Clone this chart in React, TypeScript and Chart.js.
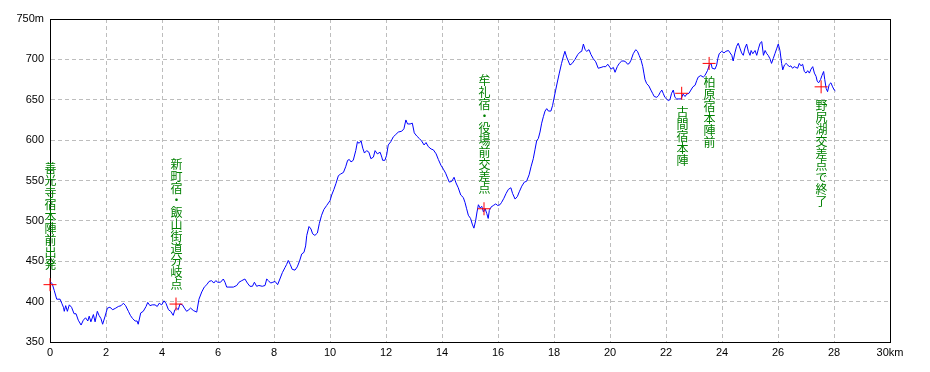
import React, { useEffect, useRef } from "react";
import { Chart, registerables } from "chart.js";

Chart.register(...registerables);

// ---- data ----
const distanceKm = [
  0, 0.08, 0.15, 0.24, 0.36, 0.42, 0.48, 0.51, 0.56, 0.62, 0.69, 0.77, 0.86, 0.93,
  1.01, 1.11, 1.19, 1.27, 1.35, 1.4, 1.46, 1.55, 1.61, 1.69, 1.75, 1.82, 1.88, 1.96,
  2.05, 2.14, 2.24, 2.35, 2.44, 2.54, 2.62, 2.7, 2.8, 2.87, 2.95, 3.04, 3.11, 3.15,
  3.24, 3.33, 3.43, 3.49, 3.57, 3.65, 3.75, 3.83, 3.9, 3.99, 4.07, 4.14, 4.23, 4.31,
  4.4, 4.46, 4.52, 4.58, 4.64, 4.73, 4.8, 4.88, 4.96, 5.02, 5.12, 5.18, 5.24,
  5.32, 5.42, 5.51, 5.6, 5.68, 5.77, 5.85, 5.92, 5.99, 6.09, 6.19, 6.25, 6.31, 6.39,
  6.55, 6.67, 6.75, 6.85, 6.96, 7.05, 7.14, 7.23, 7.3, 7.38, 7.46, 7.58, 7.68, 7.74,
  7.8, 7.88, 7.96, 8.04, 8.13, 8.21, 8.3, 8.39, 8.45, 8.51, 8.58, 8.65, 8.75, 8.83,
  8.91, 8.99, 9.07, 9.13, 9.17, 9.25, 9.32, 9.38, 9.46, 9.55, 9.62, 9.7, 9.78, 9.88,
  10.0, 10.06, 10.14, 10.21, 10.3, 10.38, 10.48, 10.56, 10.63, 10.69, 10.75, 10.83,
  10.92, 10.98, 11.04, 11.11, 11.17, 11.23, 11.31, 11.39, 11.46, 11.55, 11.61, 11.69,
  11.79, 11.85, 11.88, 11.96, 12.02, 12.08, 12.17, 12.26, 12.35, 12.44, 12.56, 12.64,
  12.71, 12.77, 12.86, 12.94, 13.01, 13.1, 13.19, 13.27, 13.36, 13.43, 13.51, 13.61,
  13.69, 13.79, 13.87, 13.96, 14.05, 14.13, 14.2, 14.26, 14.35, 14.43, 14.5, 14.58,
  14.67, 14.76, 14.82, 14.88, 14.94, 15.02, 15.08, 15.14, 15.2, 15.25, 15.3, 15.36,
  15.42, 15.48, 15.54, 15.6, 15.65, 15.69, 15.75, 15.83, 15.92, 15.99, 16.07, 16.13,
  16.21, 16.29, 16.37, 16.46, 16.52, 16.61, 16.69, 16.76, 16.85, 16.94, 17.02, 17.11,
  17.18, 17.26, 17.32, 17.38, 17.44, 17.5, 17.56, 17.62, 17.68, 17.74, 17.8, 17.89,
  17.95, 18.0, 18.06, 18.12, 18.19, 18.27, 18.33, 18.39, 18.45, 18.51, 18.57, 18.65,
  18.75, 18.85, 18.93, 18.99, 19.05, 19.11, 19.17, 19.25, 19.32, 19.4, 19.49, 19.58,
  19.68, 19.76, 19.85, 19.92, 20.04, 20.12, 20.18, 20.26, 20.33, 20.42, 20.5, 20.56,
  20.63, 20.69, 20.75, 20.83, 20.92, 20.98, 21.04, 21.11, 21.17, 21.21, 21.25, 21.31,
  21.39, 21.46, 21.52, 21.58, 21.67, 21.73, 21.79, 21.85, 21.9, 21.96, 22.02, 22.08,
  22.14, 22.2, 22.26, 22.32, 22.38, 22.46, 22.54, 22.61, 22.68, 22.74, 22.82, 22.89,
  22.96, 23.04, 23.1, 23.15, 23.24, 23.33, 23.39, 23.48, 23.55, 23.61, 23.65, 23.75,
  23.81, 23.85, 23.9, 23.99, 24.07, 24.14, 24.23, 24.29, 24.35, 24.4, 24.46, 24.52,
  24.58, 24.64, 24.7, 24.76, 24.82, 24.88, 24.94, 25.0, 25.04, 25.1, 25.18, 25.24,
  25.3, 25.36, 25.42, 25.48, 25.54, 25.6, 25.65, 25.71, 25.77, 25.83, 25.89, 25.95,
  26.01, 26.07, 26.13, 26.17, 26.23, 26.29, 26.35, 26.4, 26.46, 26.52, 26.58, 26.64,
  26.7, 26.76, 26.82, 26.88, 26.94, 27.0, 27.06, 27.12, 27.18, 27.24, 27.3, 27.36,
  27.4, 27.45, 27.52, 27.57, 27.63, 27.67, 27.72, 27.77, 27.83, 27.89, 27.95, 28.01,
  28.05,
];

const elevationM = [
  425, 422, 414, 403, 403, 398, 393, 388, 395, 388, 396, 393, 385, 385,
  377, 371, 377, 380, 376, 382, 375, 384, 375, 388, 383, 379, 372, 381,
  392, 393, 390, 392, 394, 395, 398, 395, 388, 383, 379, 376, 376, 372,
  386, 388, 394, 399, 395, 396, 396, 394, 398, 396, 401, 398, 390, 388,
  383, 390, 392, 390, 397, 396, 392, 388, 390, 392, 389, 388, 387,
  403, 412, 418, 421, 425, 426, 423, 426, 424, 424, 428, 424, 418, 418,
  418, 420, 424, 426, 428, 423, 419, 419, 424, 419, 420, 419, 420, 428,
  426, 423, 424, 425, 421, 428, 436, 442, 446, 451, 446, 440, 439, 443,
  450, 459, 461, 469, 482, 493, 490, 484, 482, 485, 497, 507, 514, 519,
  525, 532, 539, 546, 556, 558, 560, 567, 575, 576, 573, 575,
  587, 598, 596, 599, 590, 584, 587, 585, 577, 579, 587, 583,
  585, 579, 575, 575, 581, 594, 598, 604, 607, 610, 611, 614,
  625, 620, 620, 621, 609, 605, 602, 599, 594, 597, 592, 589,
  588, 583, 576, 569, 564, 559, 553, 548, 549, 554, 547, 541,
  532, 529, 523, 515, 507, 503, 496, 491, 500, 511, 520, 516,
  518, 511, 515, 509, 503, 513, 517, 519, 521, 519, 520, 523,
  528, 534, 539, 541, 534, 527, 530, 536, 543, 548, 549, 557,
  567, 577, 588, 599, 602, 610, 621, 629, 636, 639, 636, 636,
  643, 652, 662, 672, 683, 695, 703, 710, 703, 698, 693, 695,
  700, 706, 709, 710, 719, 712, 710, 712, 706, 701, 697, 689,
  690, 691, 691, 694, 688, 690, 684, 691, 695, 698, 698, 697,
  694, 695, 699, 707, 712, 710, 705, 699, 691, 683, 675, 670,
  667, 662, 658, 654, 653, 655, 659, 662, 658, 653, 651, 649,
  650, 658, 662, 653, 651, 651, 651, 657, 654, 657, 658, 662,
  666, 668, 674, 678, 680, 678, 680, 686, 693, 695, 689, 688,
  693, 701, 707, 710, 708, 710, 711, 708, 705, 698, 708, 716,
  720, 714, 708, 705, 714, 719, 710, 705, 711, 707, 711, 705,
  713, 720, 722, 705, 711, 707, 705, 701, 695, 701, 707, 713,
  719, 711, 695, 687, 693, 695, 693, 691, 692, 689, 691, 690,
  689, 695, 692, 694, 685, 683, 686, 683, 688, 691, 683, 679,
  673, 671, 675, 680, 685, 675, 664, 660, 669, 671, 666, 662,
  661,
];

const markerKm = [0, 4.5, 15.5, 22.56, 23.54, 27.54];
const markerElevationM = [421, 397, 515, 658, 695, 666];
const markerLabels = [
  "善光寺宿本陣前出発",
  "新町宿・飯山街道分岐点",
  "牟礼宿・役場前交差点",
  "古間宿本陣",
  "柏原宿本陣前",
  "野尻湖交差点で終了",
];

const yTickMin = 350;
const yTickMax = 750;
const yTickStep = 50;
const xTickMin = 0;
const xTickMax = 30;
const xTickStep = 2;
const yUnit = "m";
const xUnit = "km";

// ---- presentation ----
const LABEL_BELOW = [false, false, false, true, true, true];
const AXIS_FONT = { family: "'Liberation Sans', Arial, sans-serif", size: 11 };

const labelPlugin = {
  id: "markerLabels",
  beforeDatasetsDraw(chart: any) {
    const { ctx, chartArea } = chart;
    ctx.save();
    ctx.strokeStyle = "#000";
    ctx.lineWidth = 1;
    const l = Math.round(chartArea.left) + 0.5;
    const t = Math.round(chartArea.top) + 0.5;
    const r = Math.round(chartArea.right) + 0.5;
    const b = Math.round(chartArea.bottom) + 0.5;
    ctx.strokeRect(l, t, r - l, b - t);
    ctx.restore();
  },
  afterDatasetsDraw(chart: any) {
    const { ctx } = chart;
    const xs = chart.scales.x;
    const ys = chart.scales.y;
    ctx.save();
    ctx.fillStyle = "#008000";
    ctx.font = "12px 'Noto Sans CJK JP', sans-serif";
    ctx.textAlign = "center";
    ctx.textBaseline = "middle";
    const step = 12;
    markerLabels.forEach((label, i) => {
      const chars = Array.from(label);
      const px = Math.round(xs.getPixelForValue(markerKm[i])) + 0.5;
      const py = ys.getPixelForValue(markerElevationM[i]);
      const n = chars.length;
      chars.forEach((ch, j) => {
        let cy;
        if (LABEL_BELOW[i]) {
          cy = py + 13 + j * step + step / 2;
        } else {
          cy = py - 14 - (n - 1 - j) * step - step / 2;
        }
        ctx.fillText(ch, px, cy);
      });
    });
    ctx.restore();
  },
};

export default function App() {
  const ref = useRef<HTMLCanvasElement>(null);

  useEffect(() => {
    if (!ref.current) return;
    const lineData = distanceKm.map((x, i) => ({ x, y: elevationM[i] }));
    const markerData = markerKm.map((x, i) => ({ x, y: markerElevationM[i] }));
    const chart = new Chart(ref.current, {
      type: "scatter",
      data: {
        datasets: [
          {
            data: markerData,
            showLine: false,
            pointStyle: "cross",
            pointRadius: 6.5,
            pointBorderColor: "#ff0000",
            pointBackgroundColor: "#ff0000",
            pointBorderWidth: 1,
            borderColor: "#ff0000",
            clip: false,
            order: 1,
          } as any,
          {
            data: lineData,
            showLine: true,
            borderColor: "#0000ff",
            borderWidth: 1,
            pointRadius: 0,
            tension: 0,
            order: 2,
          } as any,
        ],
      },
      options: {
        animation: false,
        responsive: false,
        devicePixelRatio: 1,
        layout: { padding: { top: 19, right: 40, left: 0, bottom: 0 } },
        plugins: {
          legend: { display: false },
          tooltip: { enabled: false },
        },
        scales: {
          x: {
            type: "linear",
            min: xTickMin,
            max: xTickMax,
            afterFit: (s: any) => {
              s.height = 30;
            },
            ticks: {
              stepSize: xTickStep,
              color: "#000",
              font: AXIS_FONT,
              padding: 4,
              maxRotation: 0,
              autoSkip: false,
              callback: (v: any) => (v === xTickMax ? `${v}${xUnit}` : `${v}`),
            },
            grid: { color: "#bdbdbd", drawTicks: false, lineWidth: 1 },
            border: { display: true, color: "#000", dash: [4, 3] },
          },
          y: {
            type: "linear",
            min: yTickMin,
            max: yTickMax,
            afterFit: (s: any) => {
              s.width = 50;
            },
            ticks: {
              stepSize: yTickStep,
              color: "#000",
              font: AXIS_FONT,
              padding: 6,
              autoSkip: false,
              callback: (v: any) => (v === yTickMax ? `${v}${yUnit}` : `${v}`),
            },
            grid: { color: "#bdbdbd", drawTicks: false, lineWidth: 1 },
            border: { display: true, color: "#000", dash: [4, 3] },
          },
        },
      } as any,
      plugins: [labelPlugin],
    });
    return () => chart.destroy();
  }, []);

  return (
    <div
      style={{
        position: "fixed",
        left: 0,
        top: 0,
        width: 930,
        height: 372,
        background: "#fff",
      }}
    >
      <canvas ref={ref} width={930} height={372} style={{ display: "block" }} />
    </div>
  );
}
